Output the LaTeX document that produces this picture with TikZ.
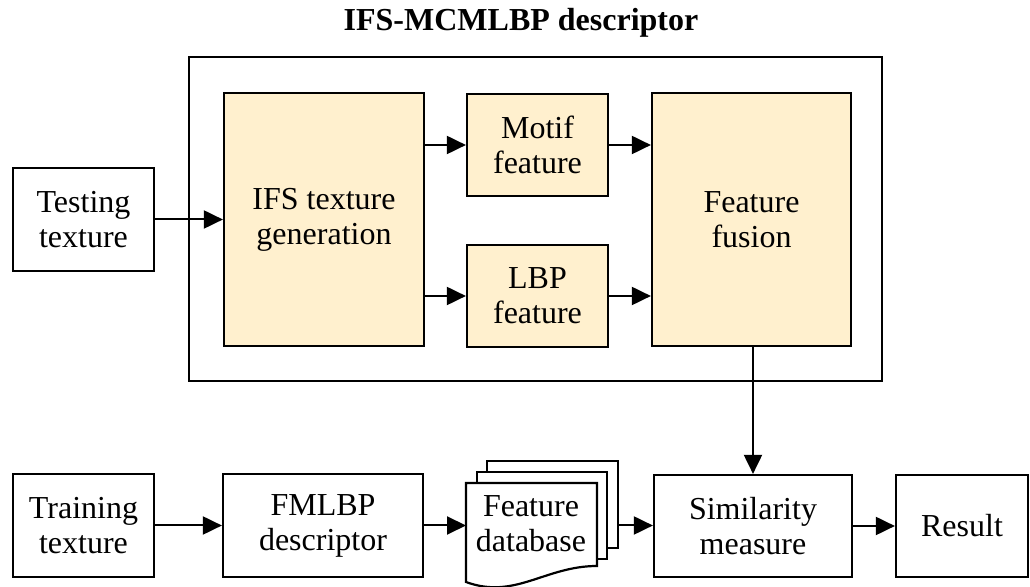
\documentclass[tikz,border=0pt]{standalone}
\usepackage{fontspec}
\setmainfont{Liberation Serif}
\usepackage{tikz}
\usetikzlibrary{arrows.meta,calc}
\definecolor{boxfill}{HTML}{FFF0CE}

\begin{document}
\begin{tikzpicture}[x=0.5pt,y=-0.5pt,
    font=\fontsize{16pt}{17.5pt}\selectfont,
    block/.style={draw,line width=1.1pt,align=center,inner sep=0pt},
    stage/.style={block,fill=boxfill},
    flow/.style={-{Triangle[length=9.5pt,width=9pt]},line width=1pt}]
  \useasboundingbox (0,0) rectangle (1030,587);
  % title and frame of the descriptor
  \node[font=\fontsize{16pt}{18pt}\selectfont\bfseries] (title) at (521,23) {IFS-MCMLBP descriptor};
  \draw[line width=1.1pt] (189,57) rectangle (882,381);
  % upper row
  \node[block,minimum width=70.5pt,minimum height=51.5pt] (testing) at (83.5,219.5) {Testing\\texture};
  \node[stage,minimum width=100pt,minimum height=126.5pt] (ifs) at (324,219.5) {IFS texture\\generation};
  \node[stage,minimum width=70.5pt,minimum height=51pt] (motif) at (537.5,145) {Motif\\feature};
  \node[stage,minimum width=70.5pt,minimum height=51pt] (lbp) at (537.5,296) {LBP\\feature};
  \node[stage,minimum width=99.5pt,minimum height=126.5pt] (fusion) at (751.5,219.5) {Feature\\fusion};
  % lower row
  \node[block,minimum width=70.5pt,minimum height=51.5pt] (training) at (83.5,525.5) {Training\\texture};
  \node[block,minimum width=100pt,minimum height=51.5pt] (fmlbp) at (323,525.5) {FMLBP\\descriptor};
  \node[block,minimum width=99pt,minimum height=51pt] (sim) at (753,526) {Similarity\\measure};
  \node[block,minimum width=66pt,minimum height=51pt] (result) at (962,526) {Result};
  % stacked documents
  \draw[line width=1.1pt,fill=white] (487,461) rectangle (618,548);
  \draw[line width=1.1pt,fill=white] (477,472) rectangle (607,559);
  \draw[line width=1.1pt,fill=white] (466,483) -- (597,483) -- (597,566)
    .. controls (545,566) and (515,600) .. (466,582) -- cycle;
  \node[align=center] (db) at (531,524) {Feature\\database};
  \coordinate (dbin) at (466,525.5);
  \coordinate (dbout) at (618,525.5);
  % connectors
  \draw[flow] (testing.east) -- (testing.east -| ifs.west);
  \draw[flow] (motif.west -| ifs.east) -- (motif.west);
  \draw[flow] (lbp.west -| ifs.east) -- (lbp.west);
  \draw[flow] (motif.east) -- (motif.east -| fusion.west);
  \draw[flow] (lbp.east) -- (lbp.east -| fusion.west);
  \draw[flow] (sim.north |- fusion.south) -- (sim.north);
  \draw[flow] (training.east) -- (fmlbp.west);
  \draw[flow] (fmlbp.east) -- (dbin);
  \draw[flow] (dbout) -- (dbout -| sim.west);
  \draw[flow] (sim.east) -- (result.west);
\end{tikzpicture}
\end{document}
